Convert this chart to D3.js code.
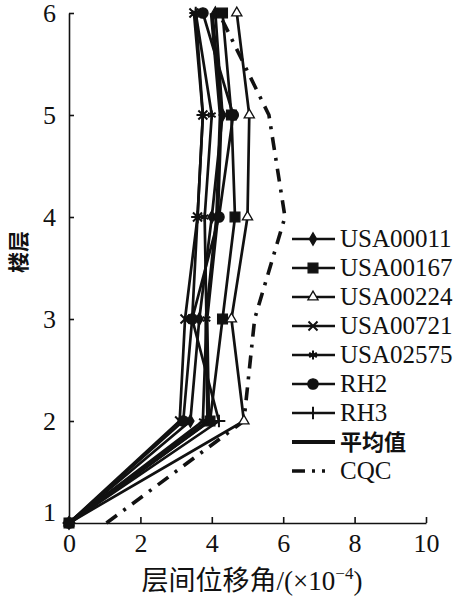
<!DOCTYPE html>
<html>
<head>
<meta charset="utf-8">
<script src="https://cdn.jsdelivr.net/npm/d3@7/dist/d3.min.js"></script>
<style>
  body { margin: 0; background: #fff; }
  svg text { fill: #111; }
</style>
</head>
<body>
<div id="chart"></div>
<script>
// floors and drift ratios (x1e-4)
var floors   = [1, 2, 3, 4, 5, 6];
var usa00011 = [0, 3.4, 3.65, 4.0, 4.3, 4.1];
var usa00167 = [0, 3.95, 4.3, 4.65, 4.55, 4.3];
var usa00224 = [0, 4.9, 4.55, 5.0, 5.05, 4.7];
var usa00721 = [0, 3.1, 3.25, 3.6, 3.75, 3.5];
var usa02575 = [0, 3.75, 3.85, 3.8, 4.0, 3.55];
var rh2      = [0, 3.2, 3.45, 4.2, 4.6, 3.75];
var rh3      = [0, 4.2, 3.45, 3.6, 3.75, 3.55];
var mean     = [0, 3.9, 3.85, 4.15, 4.25, 4.0];
var cqc      = [1.05, 4.9, 5.2, 6.05, 5.6, 4.2];

var xTicks = [0, 2, 4, 6, 8, 10];
var names  = ["USA00011", "USA00167", "USA00224", "USA00721", "USA02575", "RH2", "RH3", "平均值", "CQC"];

var series = [
  {name: names[0], values: usa00011, sym: d3.symbolDiamond, size: 45, fill: "#111"},
  {name: names[1], values: usa00167, sym: d3.symbolSquare, size: 95, fill: "#111"},
  {name: names[2], values: usa00224, sym: d3.symbolTriangle, size: 45, fill: "#fff"},
  {name: names[3], values: usa00721, sym: d3.symbolTimes, size: 55, fill: "none"},
  {name: names[4], values: usa02575, sym: d3.symbolAsterisk, size: 55, fill: "none"},
  {name: names[5], values: rh2, sym: d3.symbolCircle, size: 85, fill: "#111"},
  {name: names[6], values: rh3, sym: d3.symbolPlus, size: 55, fill: "none"},
  {name: names[7], values: mean, sym: null, width: 4.2},
  {name: names[8], values: cqc, sym: null, width: 3.6, dash: "13,8,3,8"}
];

var W = 474, H = 602;
var svg = d3.select("#chart").append("svg")
    .attr("width", W)
    .attr("height", H);

var x = d3.scaleLinear().domain([0, 10]).range([69, 426]);
var y = d3.scaleLinear().domain([1, 6]).range([523, 13]);

var serif = "'Liberation Serif', 'DejaVu Serif', 'Times New Roman', serif";
var cjk = "'Noto Sans CJK SC', sans-serif";

// axes
var xAxis = svg.append("g")
    .attr("transform", "translate(0," + y(1) + ")")
    .call(d3.axisBottom(x).tickValues(xTicks).tickSizeInner(-6).tickSizeOuter(0).tickPadding(11));
var yAxis = svg.append("g")
    .attr("transform", "translate(" + x(0) + ",0)")
    .call(d3.axisLeft(y).tickValues(floors).tickFormat(d3.format("d")).tickSizeInner(-5).tickSizeOuter(0).tickPadding(13));

[xAxis, yAxis].forEach(function(a) {
  a.attr("font-family", null).attr("font-size", null);
  a.selectAll("path, line").attr("stroke", "#111").attr("stroke-width", 1.6);
  a.selectAll("text").attr("font-family", serif).attr("font-size", 26);
});
yAxis.selectAll(".tick").filter(function(d) { return d == 1; })
  .select("text").attr("dy", "-0.1em");

// lines
var line = d3.line()
    .x(function(d) { return x(d.v); })
    .y(function(d) { return y(d.f); });

function pts(s) {
  return s.values.map(function(v, i) { return {v: v, f: floors[i]}; });
}

series.forEach(function(s) {
  svg.append("path")
    .datum(pts(s))
    .attr("d", line)
    .attr("fill", "none")
    .attr("stroke", "#111")
    .attr("stroke-width", s.width || 2.7)
    .attr("stroke-dasharray", s.dash || null)
    .attr("stroke-linejoin", "round");
});

function drawMarker(g, s, cx, cy) {
  var stroked = s.fill == "none";
  g.append("path")
    .attr("d", d3.symbol().type(s.sym).size(s.size)())
    .attr("transform", "translate(" + cx + "," + cy + ")")
    .attr("fill", stroked ? "none" : s.fill)
    .attr("stroke", "#111")
    .attr("stroke-width", stroked ? 2 : 1.3);
}

series.forEach(function(s) {
  if (!s.sym) return;
  pts(s).forEach(function(p) {
    drawMarker(svg, s, x(p.v), y(p.f));
  });
});

// legend
var legend = svg.append("g").attr("transform", "translate(292,239)");
series.forEach(function(s, i) {
  var g = legend.append("g").attr("transform", "translate(0," + (i * 29) + ")");
  g.append("line")
    .attr("x1", 0).attr("x2", 43)
    .attr("stroke", "#111")
    .attr("stroke-width", s.width || 2.4)
    .attr("stroke-dasharray", s.dash ? "13,7,3,7,3,20" : null);
  if (s.sym) drawMarker(g, s, 21, 0);
  var cn = s.name == "平均值";
  g.append("text")
    .attr("x", 48)
    .attr("dy", cn ? "0.36em" : "0.33em")
    .attr("font-family", cn ? cjk : serif)
    .attr("font-weight", cn ? 700 : 400)
    .attr("font-size", cn ? 22 : 25)
    .text(s.name);
});

// axis titles
svg.append("text")
  .attr("transform", "translate(18,252) rotate(-90)")
  .attr("text-anchor", "middle")
  .attr("dy", "0.36em")
  .attr("font-family", cjk)
  .attr("font-weight", 700)
  .attr("font-size", 21)
  .text("楼层");

var xt = svg.append("text")
  .attr("x", 252)
  .attr("y", 590)
  .attr("text-anchor", "middle")
  .attr("font-size", 27);
xt.append("tspan").attr("font-family", cjk).text("层间位移角");
xt.append("tspan").attr("font-family", serif).text("/(×10");
xt.append("tspan").attr("font-family", serif).attr("font-size", 17).attr("dy", -11).text("−4");
xt.append("tspan").attr("font-family", serif).attr("dy", 11).text(")");
</script>
</body>
</html>
